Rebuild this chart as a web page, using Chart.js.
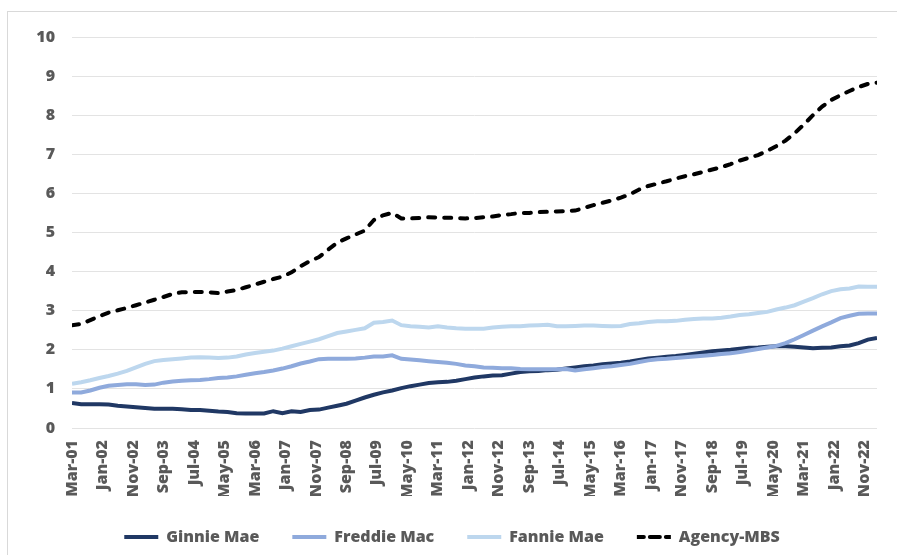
<!DOCTYPE html>
<html>
<head>
<meta charset="utf-8">
<script src="https://cdn.jsdelivr.net/npm/chart.js@4.4.1/dist/chart.umd.min.js"></script>
<style>
  body { margin: 0; background: #fff; }
  #frame { position: absolute; left: 7px; top: 11px; width: 1000px; height: 1000px;
           border-left: 1px solid #d9d9d9; border-top: 1px solid #d9d9d9; }
  #wrap { position: absolute; left: 0; top: 0; width: 897px; height: 555px; }
</style>
</head>
<body>
<div id="frame"></div>
<div id="wrap"><canvas id="mbsChart" width="897" height="555"></canvas></div>
<script>
// quarterly series, Mar-01 .. Mar-23 (x = months since Mar-01)
var tickLabels = ["Mar-01", "Jan-02", "Nov-02", "Sep-03", "Jul-04", "May-05", "Mar-06", "Jan-07", "Nov-07",
  "Sep-08", "Jul-09", "May-10", "Mar-11", "Jan-12", "Nov-12", "Sep-13", "Jul-14", "May-15", "Mar-16",
  "Jan-17", "Nov-17", "Sep-18", "Jul-19", "May-20", "Mar-21", "Jan-22", "Nov-22"];

var ginnieMae = [
  0.64, 0.61, 0.61, 0.61, 0.60, 0.57, 0.55, 0.53, 0.51, 0.49,
  0.49, 0.49, 0.48, 0.46, 0.46, 0.44, 0.42, 0.41, 0.38, 0.37,
  0.37, 0.37, 0.43, 0.38, 0.43, 0.41, 0.46, 0.47, 0.52, 0.57,
  0.62, 0.70, 0.78, 0.85, 0.91, 0.96, 1.02, 1.07, 1.11, 1.15,
  1.17, 1.18, 1.21, 1.25, 1.29, 1.32, 1.34, 1.35, 1.39, 1.43,
  1.45, 1.46, 1.48, 1.49, 1.52, 1.55, 1.58, 1.60, 1.63, 1.65,
  1.67, 1.70, 1.74, 1.78, 1.80, 1.82, 1.84, 1.87, 1.90, 1.93,
  1.96, 1.98, 2.00, 2.03, 2.05, 2.06, 2.08, 2.09, 2.09, 2.08,
  2.06, 2.04, 2.05, 2.06, 2.09, 2.11, 2.17, 2.26, 2.30];

var freddieMac = [
  0.91, 0.91, 0.96, 1.03, 1.08, 1.10, 1.12, 1.12, 1.10, 1.11,
  1.16, 1.19, 1.21, 1.22, 1.23, 1.25, 1.28, 1.29, 1.32, 1.36,
  1.40, 1.43, 1.47, 1.52, 1.58, 1.65, 1.70, 1.76, 1.77, 1.77,
  1.77, 1.78, 1.80, 1.83, 1.83, 1.86, 1.77, 1.75, 1.73, 1.71,
  1.69, 1.67, 1.64, 1.60, 1.58, 1.55, 1.54, 1.53, 1.53, 1.51,
  1.50, 1.50, 1.50, 1.50, 1.51, 1.47, 1.50, 1.53, 1.56, 1.58,
  1.61, 1.64, 1.69, 1.73, 1.76, 1.77, 1.79, 1.81, 1.83, 1.85,
  1.87, 1.89, 1.91, 1.94, 1.98, 2.02, 2.06, 2.10, 2.17, 2.27,
  2.38, 2.49, 2.60, 2.70, 2.81, 2.87, 2.92, 2.93, 2.93];

var fannieMae = [
  1.13, 1.17, 1.22, 1.28, 1.33, 1.39, 1.46, 1.55, 1.64, 1.71,
  1.74, 1.76, 1.78, 1.80, 1.81, 1.80, 1.79, 1.80, 1.83, 1.88,
  1.92, 1.95, 1.98, 2.03, 2.09, 2.15, 2.21, 2.27, 2.35, 2.43,
  2.47, 2.51, 2.55, 2.69, 2.71, 2.75, 2.63, 2.60, 2.59, 2.57,
  2.60, 2.57, 2.55, 2.54, 2.54, 2.54, 2.57, 2.59, 2.60, 2.60,
  2.62, 2.63, 2.64, 2.60, 2.60, 2.61, 2.62, 2.62, 2.61, 2.60,
  2.61, 2.66, 2.68, 2.71, 2.73, 2.73, 2.74, 2.77, 2.79, 2.80,
  2.80, 2.82, 2.85, 2.89, 2.91, 2.94, 2.97, 3.03, 3.08, 3.14,
  3.23, 3.32, 3.42, 3.50, 3.55, 3.57, 3.62, 3.61, 3.61];

var agencyMBS = [
  2.63, 2.66, 2.76, 2.86, 2.95, 3.01, 3.07, 3.14, 3.21, 3.28,
  3.35, 3.43, 3.47, 3.48, 3.48, 3.47, 3.45, 3.49, 3.53, 3.60,
  3.67, 3.74, 3.81, 3.87, 3.98, 4.14, 4.27, 4.37, 4.56, 4.74,
  4.85, 4.95, 5.05, 5.32, 5.44, 5.50, 5.36, 5.36, 5.37, 5.39,
  5.38, 5.38, 5.37, 5.36, 5.37, 5.39, 5.41, 5.45, 5.47, 5.50,
  5.50, 5.52, 5.53, 5.54, 5.55, 5.56, 5.63, 5.70, 5.76, 5.82,
  5.89, 5.98, 6.10, 6.19, 6.25, 6.31, 6.38, 6.44, 6.49, 6.55,
  6.61, 6.67, 6.75, 6.84, 6.91, 6.98, 7.09, 7.21, 7.35, 7.54,
  7.76, 8.00, 8.22, 8.39, 8.51, 8.62, 8.72, 8.80, 8.83];

// one point every 3 months
function toPoints(values) {
  return values.map(function (v, i) { return { x: i * 3, y: v }; });
}

var font = { family: "'Open Sans', sans-serif", size: 16, weight: "800" };
var textColor = "#595959";

new Chart(document.getElementById("mbsChart"), {
  type: "line",
  data: {
    datasets: [
      { label: "Ginnie Mae", data: toPoints(ginnieMae), borderColor: "#203864", backgroundColor: "#203864", order: 4 },
      { label: "Freddie Mac", data: toPoints(freddieMac), borderColor: "#8faadc", backgroundColor: "#8faadc", order: 3 },
      { label: "Fannie Mae", data: toPoints(fannieMae), borderColor: "#bdd7ee", backgroundColor: "#bdd7ee", order: 2 },
      { label: "Agency-MBS", data: toPoints(agencyMBS), borderColor: "#000000", backgroundColor: "#000000", order: 1,
        borderDash: [7, 9], borderCapStyle: "round" }
    ]
  },
  options: {
    responsive: false,
    animation: false,
    datasets: { line: { borderWidth: 4, pointRadius: 0, tension: 0, fill: false } },
    layout: { padding: { left: 27, right: 20, top: 37, bottom: 0 } },
    scales: {
      x: {
        type: "linear",
        min: 0,
        max: 264,
        grid: { display: false, drawTicks: false },
        border: { display: false },
        afterBuildTicks: function (scale) {
          scale.ticks = tickLabels.map(function (l, i) { return { value: i * 10 }; });
        },
        afterFit: function (scale) { scale.height = 68; },
        ticks: {
          minRotation: 90,
          maxRotation: 90,
          autoSkip: false,
          padding: 12,
          color: textColor,
          font: font,
          callback: function (v) { return tickLabels[Math.round(v / 10)]; }
        }
      },
      y: {
        min: 0,
        max: 10,
        grid: { color: "#e3e3e3", lineWidth: 1, drawTicks: false },
        border: { display: false },
        afterFit: function (scale) { scale.width = 45; },
        ticks: { stepSize: 1, padding: 17, color: textColor, font: font }
      }
    },
    plugins: {
      tooltip: { enabled: false },
      legend: {
        position: "bottom",
        labels: {
          // zero-height box -> stroked as a flat line, keeps the dash
          boxWidth: 34,
          boxHeight: 0,
          padding: 33,
          color: textColor,
          font: font,
          sort: function (a, b) { return a.datasetIndex - b.datasetIndex; }
        }
      }
    }
  }
});
</script>
</body>
</html>
